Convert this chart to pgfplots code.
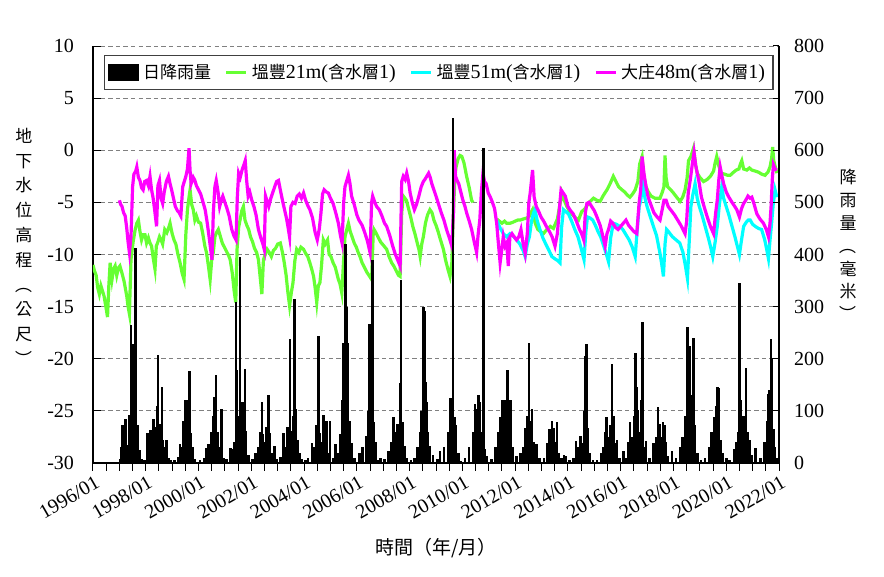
\documentclass[border=0pt]{standalone}
\usepackage{fontspec}
\setmainfont{Liberation Serif}
\newfontfamily\cjk{Noto Sans CJK TC}
\usepackage{graphicx}
\usepackage{pgfplots}
\pgfplotsset{compat=1.18}
\definecolor{gwgreen}{RGB}{102,255,51}
\definecolor{gwcyan}{RGB}{0,255,255}
\definecolor{gwmag}{RGB}{255,0,255}
\newcommand{\zh}[1]{{\cjk\fontsize{8.5}{10}\selectfont #1}}
\newcommand{\vl}{\rotatebox[origin=c]{-90}{（}}
\newcommand{\vr}{\rotatebox[origin=c]{-90}{）}}

\begin{document}
\begin{tikzpicture}
\useasboundingbox (-46.5pt,-57pt) rectangle (395.5pt,231.5pt);
\pgfplotsset{every axis/.append style={
  scale only axis, width=343pt, height=208.5pt,
  at={(0,0)}, anchor=south west,
  xmin=1996, xmax=2022,
  font=\fontsize{10}{12}\selectfont,
  /pgf/number format/assume math mode=true,
  clip mode=individual,
  tick align=inside, major tick length=3pt,
  tick style={black, line width=0.5pt},
  axis line style={black, line width=0.7pt}}}

% groundwater levels (left axis)
\begin{axis}[
  axis y line*=left, axis x line*=bottom,
  ymin=-30, ymax=10, ytick={-30,-25,...,10},
  ymajorgrids, grid style={gray, dash pattern=on 2.2pt off 1.6pt, line width=0.5pt},
  xtick={1996,1998,...,2022},
  xticklabels={1996/01,1998/01,2000/01,2002/01,2004/01,2006/01,2008/01,2010/01,2012/01,2014/01,2016/01,2018/01,2020/01,2022/01},
  minor x tick num=3, minor tick length=4pt, major tick length=4pt,
  xtick style={yshift=-4pt},
  xticklabel style={rotate=30, anchor=north east, yshift=-2pt, xshift=1pt},
  yticklabel style={xshift=-6pt},
  unbounded coords=jump,
]
\addplot[gwgreen, line width=1.6pt] coordinates {
(1996.00,-11.0)(1996.06,-11.6)(1996.12,-12.0)(1996.18,-13.2)(1996.24,-13.8)(1996.30,-13.0)(1996.36,-13.5)(1996.42,-14.0)
(1996.50,-15.2)(1996.55,-16.0)(1996.60,-13.0)(1996.65,-10.8)(1996.72,-12.4)(1996.78,-11.4)(1996.84,-11.1)(1996.90,-12.0)
(1996.96,-11.3)(1997.02,-11.1)(1997.10,-11.8)(1997.18,-12.6)(1997.28,-14.0)(1997.33,-15.0)(1997.38,-15.7)(1997.44,-10.5)
(1997.52,-8.8)(1997.60,-7.6)(1997.66,-7.0)(1997.72,-6.7)(1997.78,-7.8)(1997.84,-8.6)(1997.90,-8.1)(1997.97,-8.1)
(1998.03,-8.9)(1998.10,-8.4)(1998.16,-8.9)(1998.22,-9.2)(1998.28,-10.3)(1998.35,-11.4)(1998.40,-9.2)(1998.46,-8.8)
(1998.52,-8.3)(1998.58,-8.6)(1998.64,-9.0)(1998.72,-7.6)(1998.80,-7.9)(1998.86,-7.5)(1998.92,-7.0)(1999.00,-8.0)
(1999.07,-8.6)(1999.14,-9.0)(1999.22,-10.0)(1999.30,-10.8)(1999.38,-11.8)(1999.45,-12.4)(1999.52,-8.0)(1999.58,-5.7)
(1999.64,-4.5)(1999.68,-3.8)(1999.74,-5.2)(1999.80,-5.7)(1999.86,-6.7)(1999.92,-6.3)(2000.00,-6.9)(2000.08,-7.0)
(2000.16,-8.0)(2000.24,-9.2)(2000.30,-9.8)(2000.38,-11.2)(2000.44,-12.4)(2000.50,-10.5)(2000.56,-9.8)(2000.62,-8.3)
(2000.68,-7.9)(2000.75,-7.6)(2000.82,-8.2)(2000.90,-8.9)(2000.98,-9.3)(2001.06,-9.7)(2001.14,-10.1)(2001.20,-10.5)
(2001.28,-11.8)(2001.35,-13.5)(2001.41,-14.6)(2001.46,-9.5)(2001.52,-7.4)(2001.58,-6.6)(2001.64,-5.8)(2001.70,-5.4)
(2001.76,-6.7)(2001.83,-7.2)(2001.90,-7.6)(2001.97,-8.3)(2002.05,-8.8)(2002.12,-9.4)(2002.20,-9.8)(2002.27,-10.5)
(2002.33,-12.0)(2002.40,-13.8)(2002.46,-10.5)(2002.53,-10.0)(2002.60,-9.5)(2002.68,-9.8)(2002.76,-10.2)(2002.84,-9.6)
(2002.92,-9.4)(2003.00,-9.0)(2003.10,-8.9)(2003.18,-9.8)(2003.25,-10.8)(2003.32,-12.0)(2003.38,-13.5)(2003.45,-14.9)
(2003.52,-13.6)(2003.58,-12.7)(2003.65,-10.6)(2003.72,-9.5)(2003.80,-9.8)(2003.88,-9.3)(2003.98,-9.5)(2004.06,-9.9)
(2004.14,-10.2)(2004.22,-10.8)(2004.30,-11.5)(2004.36,-12.1)(2004.42,-13.2)(2004.48,-14.6)(2004.54,-13.0)(2004.60,-12.7)
(2004.66,-11.1)(2004.73,-8.6)(2004.80,-9.0)(2004.89,-8.6)(2004.95,-10.0)(2005.02,-10.2)(2005.10,-10.8)(2005.18,-11.2)
(2005.24,-11.8)(2005.30,-12.4)(2005.36,-12.8)(2005.43,-13.7)(2005.50,-10.5)(2005.55,-8.3)(2005.62,-7.6)(2005.68,-7.0)
(2005.75,-7.8)(2005.82,-8.3)(2005.90,-8.9)(2005.98,-9.3)(2006.05,-9.8)(2006.12,-10.2)(2006.20,-10.8)(2006.30,-11.3)
(2006.38,-11.7)(2006.46,-12.0)(2006.56,-12.4)(2006.62,-8.0)(2006.65,-7.6)(2006.72,-7.9)(2006.80,-8.3)(2006.90,-8.8)
(2007.00,-9.1)(2007.13,-9.5)(2007.22,-10.2)(2007.32,-10.8)(2007.40,-11.1)(2007.50,-11.6)(2007.58,-12.0)(2007.64,-12.1)
(2007.70,-6.0)(2007.76,-4.4)(2007.82,-4.6)(2007.88,-4.8)(2007.96,-5.6)(2008.05,-6.5)(2008.12,-7.3)(2008.20,-8.0)
(2008.28,-8.8)(2008.36,-9.6)(2008.40,-10.2)(2008.46,-9.0)(2008.52,-8.3)(2008.60,-7.0)(2008.68,-6.2)(2008.77,-5.7)
(2008.85,-6.0)(2008.92,-6.7)(2009.00,-7.2)(2009.08,-7.8)(2009.16,-8.5)(2009.28,-9.5)(2009.36,-10.5)(2009.45,-11.4)
(2009.53,-12.1)(2009.60,-10.8)(2009.66,-6.0)(2009.72,-2.5)(2009.76,-1.6)(2009.84,-0.8)(2009.91,-0.5)(2009.98,-0.6)
(2010.06,-1.2)(2010.16,-2.5)(2010.26,-3.6)(2010.35,-4.8)(2010.40,-5.0)(2010.70,nan)
(2011.30,-6.6)(2011.40,-6.8)(2011.50,-7.0)(2011.60,-6.8)(2011.68,-7.0)(2011.81,-7.0)(2011.92,-6.9)(2012.00,-6.8)
(2012.10,-6.7)(2012.19,-6.7)(2012.30,-6.6)(2012.44,-6.5)(2012.52,-6.4)(2012.60,-6.0)(2012.66,-5.7)(2012.76,-7.0)
(2012.86,-7.6)(2012.96,-7.8)(2013.07,-8.0)(2013.20,-7.6)(2013.33,-7.3)(2013.45,-7.5)(2013.60,-6.6)(2013.70,-5.2)
(2013.77,-4.1)(2013.86,-4.8)(2013.96,-5.4)(2014.10,-6.0)(2014.25,-6.4)(2014.40,-6.7)(2014.52,-5.9)(2014.65,-5.6)
(2014.80,-5.0)(2014.97,-4.6)(2015.10,-4.8)(2015.22,-4.9)(2015.35,-4.3)(2015.48,-3.8)(2015.60,-3.2)(2015.72,-2.5)
(2015.80,-2.9)(2015.92,-3.5)(2016.05,-3.8)(2016.15,-4.0)(2016.25,-4.3)(2016.35,-4.5)(2016.45,-4.2)(2016.55,-3.8)
(2016.65,-3.0)(2016.72,-1.3)(2016.81,-0.6)(2016.88,-2.5)(2016.96,-3.5)(2017.05,-4.0)(2017.15,-4.4)(2017.30,-4.6)
(2017.49,-4.6)(2017.58,-4.0)(2017.64,-3.5)(2017.68,-0.5)(2017.72,-2.6)(2017.78,-3.5)(2017.90,-3.8)(2018.00,-4.1)
(2018.12,-4.5)(2018.25,-4.9)(2018.35,-4.5)(2018.44,-3.8)(2018.52,-2.6)(2018.57,-1.0)(2018.66,-0.6)(2018.76,0.2)
(2018.84,-1.4)(2018.90,-2.2)(2019.00,-2.6)(2019.14,-3.0)(2019.28,-2.8)(2019.40,-2.5)(2019.52,-2.0)(2019.58,-1.2)
(2019.64,-0.6)(2019.72,-1.5)(2019.80,-2.2)(2019.95,-2.3)(2020.05,-2.4)(2020.15,-2.4)(2020.28,-2.1)(2020.38,-1.9)
(2020.48,-1.8)(2020.54,-1.3)(2020.59,-1.0)(2020.66,-1.8)(2020.78,-1.9)(2020.88,-1.7)(2020.97,-1.9)(2021.10,-2.0)
(2021.22,-2.1)(2021.35,-2.3)(2021.47,-2.4)(2021.58,-2.1)(2021.66,-1.6)(2021.72,-0.8)(2021.76,0.3)(2021.80,-1.0)
(2021.86,-1.6)(2021.92,-2.2)};
\addplot[gwcyan, line width=1.6pt] coordinates {
(2011.30,-6.7)(2011.42,-7.4)(2011.55,-8.0)(2011.68,-8.3)(2011.80,-8.0)(2011.95,-8.3)(2012.06,-8.6)(2012.18,-9.0)
(2012.30,-9.6)(2012.38,-10.2)(2012.46,-9.0)(2012.54,-8.3)(2012.62,-6.8)(2012.70,-6.0)(2012.75,-5.7)(2012.84,-6.8)
(2012.94,-7.6)(2013.05,-8.4)(2013.16,-9.0)(2013.28,-9.6)(2013.39,-10.2)(2013.50,-10.4)(2013.62,-10.6)(2013.70,-10.8)
(2013.76,-7.4)(2013.83,-5.7)(2013.92,-5.9)(2014.02,-6.1)(2014.14,-6.8)(2014.26,-7.6)(2014.38,-8.3)(2014.50,-9.4)
(2014.61,-10.5)(2014.68,-7.8)(2014.74,-6.4)(2014.84,-6.5)(2014.94,-6.7)(2015.04,-7.2)(2015.14,-7.8)(2015.24,-8.3)
(2015.36,-9.2)(2015.46,-10.0)(2015.54,-10.7)(2015.62,-8.4)(2015.72,-7.0)(2015.84,-7.1)(2015.96,-7.3)(2016.08,-7.6)
(2016.20,-8.1)(2016.32,-8.6)(2016.44,-9.3)(2016.55,-10.2)(2016.62,-7.8)(2016.70,-5.4)(2016.76,-4.8)(2016.84,-3.2)
(2016.92,-4.6)(2017.00,-5.4)(2017.10,-6.2)(2017.24,-7.3)(2017.36,-8.2)(2017.49,-9.9)(2017.56,-11.0)(2017.62,-12.1)
(2017.68,-9.0)(2017.74,-7.6)(2017.84,-7.9)(2017.96,-8.3)(2018.10,-8.6)(2018.24,-8.9)(2018.36,-9.8)(2018.46,-11.2)
(2018.53,-12.3)(2018.60,-8.6)(2018.66,-5.4)(2018.74,-4.2)(2018.82,-3.2)(2018.90,-4.6)(2018.98,-5.4)(2019.08,-6.2)
(2019.20,-7.3)(2019.32,-8.4)(2019.42,-9.4)(2019.49,-10.2)(2019.58,-8.8)(2019.66,-7.3)(2019.74,-5.2)(2019.83,-3.5)
(2019.90,-4.6)(2020.00,-5.4)(2020.10,-6.2)(2020.22,-7.3)(2020.34,-8.4)(2020.44,-9.4)(2020.50,-10.0)(2020.58,-8.6)
(2020.66,-7.3)(2020.76,-6.9)(2020.84,-6.7)(2020.91,-6.7)(2021.00,-7.1)(2021.10,-7.3)(2021.22,-7.5)(2021.34,-7.6)
(2021.46,-8.6)(2021.54,-9.6)(2021.60,-10.4)(2021.66,-8.6)(2021.72,-7.0)(2021.78,-5.2)(2021.85,-3.8)(2021.92,-4.5)};
\addplot[gwmag, line width=1.6pt] coordinates {
(1997.00,-4.8)(1997.05,-5.2)(1997.10,-5.4)(1997.16,-6.0)(1997.22,-6.3)(1997.28,-7.5)(1997.33,-8.8)(1997.38,-9.8)
(1997.44,-8.3)(1997.50,-3.5)(1997.55,-2.3)(1997.62,-2.0)(1997.66,-1.6)(1997.72,-2.6)(1997.78,-2.9)(1997.84,-3.6)
(1997.90,-3.8)(1997.96,-3.0)(1998.03,-2.9)(1998.10,-3.4)(1998.16,-2.5)(1998.22,-3.8)(1998.28,-4.6)(1998.34,-5.8)
(1998.41,-7.3)(1998.46,-3.4)(1998.52,-2.9)(1998.58,-4.6)(1998.64,-5.1)(1998.70,-4.0)(1998.78,-3.0)(1998.86,-2.5)
(1998.92,-3.2)(1998.98,-3.8)(1999.05,-4.6)(1999.12,-5.4)(1999.20,-5.8)(1999.27,-6.0)(1999.33,-6.3)(1999.40,-3.5)
(1999.46,-3.0)(1999.52,-2.5)(1999.58,-1.8)(1999.64,0.2)(1999.68,-2.0)(1999.72,-3.2)(1999.80,-2.6)(1999.86,-2.9)
(1999.92,-3.4)(2000.00,-3.8)(2000.08,-4.2)(2000.15,-4.8)(2000.25,-5.7)(2000.32,-6.8)(2000.40,-8.3)(2000.46,-9.5)
(2000.51,-10.5)(2000.56,-6.0)(2000.62,-3.5)(2000.67,-2.9)(2000.74,-4.0)(2000.80,-5.4)(2000.86,-4.8)(2000.92,-4.4)
(2001.00,-5.0)(2001.08,-5.6)(2001.16,-6.3)(2001.26,-7.6)(2001.34,-8.2)(2001.42,-8.6)(2001.47,-4.5)(2001.52,-2.2)
(2001.58,-2.6)(2001.66,-1.8)(2001.72,-1.4)(2001.77,-1.0)(2001.82,-2.8)(2001.88,-4.4)(2001.94,-4.0)(2002.02,-4.8)
(2002.10,-5.4)(2002.18,-6.2)(2002.27,-7.6)(2002.36,-8.4)(2002.44,-9.0)(2002.49,-9.5)(2002.54,-4.4)(2002.60,-4.9)
(2002.66,-5.4)(2002.74,-4.6)(2002.82,-4.0)(2002.90,-3.4)(2002.96,-3.0)(2003.03,-2.9)(2003.10,-3.8)(2003.18,-4.8)
(2003.26,-5.7)(2003.34,-6.6)(2003.40,-7.5)(2003.45,-8.3)(2003.50,-5.4)(2003.58,-5.0)(2003.66,-5.1)(2003.74,-4.4)
(2003.82,-4.2)(2003.90,-4.6)(2003.98,-4.1)(2004.06,-4.8)(2004.14,-5.3)(2004.22,-5.7)(2004.32,-6.5)(2004.42,-7.9)
(2004.50,-8.6)(2004.58,-7.5)(2004.64,-6.0)(2004.70,-4.2)(2004.76,-3.8)(2004.84,-4.0)(2004.92,-4.1)(2005.00,-4.6)
(2005.10,-5.1)(2005.20,-6.0)(2005.30,-7.0)(2005.38,-8.2)(2005.44,-8.9)(2005.50,-5.0)(2005.55,-3.5)(2005.62,-2.9)
(2005.68,-2.4)(2005.74,-3.2)(2005.80,-4.4)(2005.90,-5.2)(2006.00,-6.2)(2006.08,-6.7)(2006.20,-7.2)(2006.30,-7.9)
(2006.40,-8.7)(2006.50,-9.8)(2006.56,-5.0)(2006.60,-4.4)(2006.68,-5.0)(2006.75,-5.4)(2006.85,-5.7)(2006.95,-6.3)
(2007.05,-7.0)(2007.13,-7.3)(2007.25,-8.2)(2007.36,-9.2)(2007.46,-10.0)(2007.56,-10.6)(2007.64,-11.1)(2007.70,-3.0)
(2007.76,-2.5)(2007.83,-2.8)(2007.89,-2.2)(2007.96,-3.0)(2008.02,-4.1)(2008.10,-5.0)(2008.18,-5.7)(2008.26,-5.2)
(2008.35,-4.4)(2008.44,-3.5)(2008.52,-3.0)(2008.58,-2.8)(2008.65,-2.5)(2008.72,-2.2)(2008.78,-2.6)(2008.84,-3.2)
(2008.92,-3.8)(2009.00,-4.4)(2009.10,-5.2)(2009.20,-6.0)(2009.30,-6.7)(2009.40,-7.6)(2009.53,-8.6)(2009.60,-9.2)
(2009.66,-6.0)(2009.69,0.0)(2009.74,-2.5)(2009.80,-2.9)(2009.86,-3.2)(2009.94,-4.0)(2010.02,-4.8)(2010.10,-5.4)
(2010.16,-6.0)(2010.26,-6.8)(2010.35,-7.6)(2010.45,-8.8)(2010.54,-9.8)(2010.60,-8.0)(2010.66,-6.7)(2010.72,-4.0)
(2010.78,-2.2)(2010.84,-3.0)(2010.90,-3.2)(2010.98,-4.1)(2011.06,-4.5)(2011.14,-5.0)(2011.22,-5.6)(2011.30,-7.0)
(2011.36,-8.8)(2011.43,-10.8)(2011.49,-9.6)(2011.55,-8.3)(2011.62,-9.2)(2011.68,-8.9)(2011.74,-11.1)(2011.80,-8.3)
(2011.88,-8.0)(2011.96,-8.3)(2012.05,-8.6)(2012.14,-8.3)(2012.22,-7.6)(2012.30,-8.9)(2012.38,-9.9)(2012.46,-8.0)
(2012.52,-5.0)(2012.57,-4.1)(2012.66,-1.9)(2012.72,-4.5)(2012.80,-5.4)(2012.88,-5.8)(2012.98,-6.4)(2013.08,-6.8)
(2013.18,-7.3)(2013.30,-7.8)(2013.40,-8.3)(2013.51,-9.2)(2013.60,-8.0)(2013.68,-5.5)(2013.74,-3.8)(2013.82,-4.1)
(2013.90,-4.4)(2014.00,-5.4)(2014.10,-5.8)(2014.20,-6.1)(2014.32,-6.8)(2014.44,-7.6)(2014.52,-8.0)(2014.60,-8.6)
(2014.66,-6.0)(2014.72,-5.1)(2014.80,-5.0)(2014.90,-5.4)(2015.00,-5.8)(2015.10,-6.4)(2015.22,-7.2)(2015.32,-8.2)
(2015.41,-9.2)(2015.48,-8.0)(2015.54,-7.6)(2015.62,-6.8)(2015.70,-7.0)(2015.80,-7.4)(2015.90,-7.6)(2016.00,-7.3)
(2016.10,-7.0)(2016.20,-6.7)(2016.30,-7.2)(2016.40,-7.5)(2016.50,-7.8)(2016.61,-8.0)(2016.70,-5.0)(2016.76,-3.8)
(2016.81,-0.6)(2016.88,-2.2)(2016.96,-3.5)(2017.04,-4.5)(2017.14,-5.2)(2017.26,-6.0)(2017.38,-6.4)(2017.49,-6.7)
(2017.58,-5.6)(2017.64,-4.8)(2017.72,-4.8)(2017.80,-5.4)(2017.92,-5.8)(2018.04,-6.2)(2018.16,-6.7)(2018.28,-7.2)
(2018.36,-7.6)(2018.44,-8.0)(2018.50,-6.8)(2018.56,-4.1)(2018.64,-2.8)(2018.72,-1.2)(2018.78,-0.2)(2018.84,-1.4)
(2018.90,-2.2)(2018.98,-3.2)(2019.06,-4.5)(2019.16,-5.4)(2019.28,-6.4)(2019.40,-7.3)(2019.52,-8.0)(2019.60,-6.0)
(2019.66,-4.8)(2019.72,-2.8)(2019.77,-1.6)(2019.84,-2.5)(2019.90,-3.2)(2020.00,-4.0)(2020.10,-4.5)(2020.22,-5.0)
(2020.30,-5.3)(2020.40,-5.7)(2020.50,-6.4)(2020.58,-5.6)(2020.66,-5.1)(2020.74,-4.8)(2020.82,-4.4)(2020.90,-4.6)
(2020.97,-4.5)(2021.06,-5.2)(2021.16,-6.1)(2021.28,-6.6)(2021.41,-7.0)(2021.52,-7.6)(2021.60,-8.3)(2021.66,-7.0)
(2021.70,-5.4)(2021.75,-2.6)(2021.79,-1.4)(2021.85,-1.8)(2021.92,-1.9)};
\node[font=\cjk\fontsize{8.5}{12.4}\selectfont, align=center, inner sep=0pt]
  at (axis description cs:0,0.516) [xshift=-34.5pt] {地\\下\\水\\位\\高\\程\\\vl\\公\\尺\\\vr};
\node[font=\cjk\fontsize{9.5}{11}\selectfont, inner sep=0pt]
  at (axis description cs:0.5,0) [yshift=-42.5pt] {時間（年/月）};
\end{axis}

% daily rainfall (right axis)
\begin{axis}[
  axis y line*=right, axis x line=none,
  ymin=0, ymax=800, ytick={0,100,...,800},
  yticklabel style={xshift=4pt},
  legend columns=4,
  legend style={at={(0.504,0.978)}, anchor=north, draw=black!75, line width=0.6pt,
    font=\fontsize{10}{12}\selectfont, inner sep=2pt,
    /tikz/every even column/.append style={column sep=5pt}},
  legend image code/.code={\draw[#1] (0pt,0pt) -- (10pt,0pt);},
]
\addplot[ycomb, black, line width=1.3pt,
  legend image code/.code={\fill[black] (0pt,-3.5pt) rectangle (14pt,3.5pt);}] coordinates {
(1997.02,8)(1997.08,30)(1997.11,72)(1997.16,20)(1997.20,40)(1997.24,85)(1997.30,35)(1997.36,92)(1997.40,60)(1997.44,265)
(1997.48,120)(1997.52,229)(1997.56,80)(1997.62,413)(1997.66,50)(1997.70,72)(1997.76,25)(1997.85,8)(1997.95,5)
(1998.06,57)(1998.12,20)(1998.18,64)(1998.24,40)(1998.30,85)(1998.36,70)(1998.42,110)(1998.46,208)(1998.50,60)(1998.55,75)
(1998.61,146)(1998.66,45)(1998.72,30)(1998.78,45)(1998.86,10)(1998.95,5)
(1999.10,6)(1999.22,12)(1999.30,36)(1999.36,30)(1999.42,80)(1999.49,120)(1999.55,120)(1999.60,90)(1999.65,177)(1999.70,58)
(1999.76,30)(1999.85,8)
(2000.05,5)(2000.20,10)(2000.30,29)(2000.38,36)(2000.44,20)(2000.50,60)(2000.55,90)(2000.59,127)(2000.63,100)(2000.66,169)
(2000.72,60)(2000.80,30)(2000.88,104)(2000.95,10)
(2001.05,8)(2001.20,29)(2001.30,26)(2001.36,40)(2001.42,309)(2001.45,179)(2001.50,90)(2001.57,396)(2001.62,80)(2001.66,117)
(2001.72,60)(2001.76,180)(2001.80,62)(2001.90,15)
(2002.05,8)(2002.15,20)(2002.28,30)(2002.35,60)(2002.40,117)(2002.45,55)(2002.52,40)(2002.58,70)(2002.65,130)(2002.70,58)
(2002.78,20)(2002.88,33)(2002.96,8)
(2003.10,12)(2003.22,58)(2003.30,30)(2003.38,70)(2003.47,237)(2003.52,62)(2003.58,90)(2003.63,315)(2003.68,104)(2003.74,45)
(2003.82,20)(2003.92,8)
(2004.05,5)(2004.15,10)(2004.30,39)(2004.40,30)(2004.45,72)(2004.50,60)(2004.55,244)(2004.60,58)(2004.66,40)(2004.73,92)
(2004.80,50)(2004.86,81)(2004.94,20)(2004.98,81)
(2005.10,10)(2005.20,36)(2005.30,20)(2005.38,55)(2005.44,120)(2005.49,231)(2005.53,180)(2005.57,420)(2005.60,300)(2005.66,231)
(2005.72,80)(2005.80,39)(2005.90,10)
(2006.10,20)(2006.22,30)(2006.35,52)(2006.42,100)(2006.47,267)(2006.52,182)(2006.56,120)(2006.60,390)(2006.64,78)(2006.70,40)
(2006.78,6)(2006.90,10)
(2007.05,8)(2007.20,23)(2007.30,40)(2007.40,88)(2007.48,60)(2007.55,75)(2007.64,153)(2007.68,351)(2007.72,78)(2007.80,33)
(2007.90,10)
(2008.05,6)(2008.18,10)(2008.30,30)(2008.40,60)(2008.46,100)(2008.52,299)(2008.56,292)(2008.60,156)(2008.64,117)(2008.70,60)
(2008.78,33)(2008.88,15)
(2009.05,8)(2009.15,23)(2009.30,30)(2009.45,60)(2009.55,124)(2009.60,80)(2009.65,662)(2009.70,88)(2009.76,72)(2009.85,20)
(2009.95,3)
(2010.10,10)(2010.25,30)(2010.40,60)(2010.48,114)(2010.54,104)(2010.60,130)(2010.66,117)(2010.74,60)(2010.80,605)(2010.86,26)
(2010.94,13)
(2011.10,8)(2011.25,30)(2011.35,60)(2011.44,88)(2011.52,120)(2011.58,80)(2011.64,120)(2011.72,179)(2011.76,120)(2011.82,120)
(2011.90,30)
(2012.05,13)(2012.20,20)(2012.32,30)(2012.40,68)(2012.46,90)(2012.53,231)(2012.58,80)(2012.64,104)(2012.72,40)(2012.80,36)
(2012.92,10)
(2013.10,10)(2013.22,39)(2013.30,65)(2013.36,30)(2013.40,81)(2013.45,68)(2013.52,40)(2013.58,79)(2013.66,20)(2013.75,10)
(2013.85,16)(2013.92,13)
(2014.05,6)(2014.20,10)(2014.30,42)(2014.40,30)(2014.48,52)(2014.55,39)(2014.62,100)(2014.66,205)(2014.71,228)(2014.76,68)
(2014.84,20)(2014.95,6)
(2015.10,6)(2015.25,20)(2015.35,30)(2015.42,60)(2015.47,88)(2015.52,50)(2015.60,72)(2015.67,189)(2015.72,91)(2015.78,39)
(2015.86,45)(2015.95,10)
(2016.10,23)(2016.20,10)(2016.28,40)(2016.35,78)(2016.42,50)(2016.50,90)(2016.55,211)(2016.60,146)(2016.66,101)(2016.72,60)
(2016.78,120)(2016.82,270)(2016.88,30)(2016.96,42)
(2017.10,10)(2017.25,39)(2017.35,50)(2017.42,107)(2017.48,75)(2017.55,50)(2017.60,79)(2017.65,72)(2017.72,40)(2017.80,13)
(2017.95,23)
(2018.10,10)(2018.25,30)(2018.35,50)(2018.45,90)(2018.54,261)(2018.58,120)(2018.62,224)(2018.68,60)(2018.72,130)(2018.76,240)
(2018.80,72)(2018.90,20)
(2019.05,6)(2019.20,10)(2019.35,30)(2019.45,60)(2019.55,88)(2019.60,58)(2019.64,110)(2019.67,146)(2019.72,143)(2019.78,45)
(2019.88,20)
(2020.00,10)(2020.12,6)(2020.30,26)(2020.40,40)(2020.46,60)(2020.50,346)(2020.55,120)(2020.60,60)(2020.66,90)(2020.70,40)
(2020.75,182)(2020.80,60)(2020.88,45)(2020.95,15)
(2021.10,29)(2021.30,10)(2021.45,40)(2021.55,80)(2021.60,133)(2021.65,140)(2021.69,237)(2021.73,201)(2021.78,66)(2021.85,30)
(2021.92,10)};
\addlegendentry{\zh{日降雨量}}
\addlegendimage{gwgreen, line width=1.4pt}
\addlegendentry{\zh{塭豐}21m(\zh{含水層}1)}
\addlegendimage{gwcyan, line width=1.4pt}
\addlegendentry{\zh{塭豐}51m(\zh{含水層}1)}
\addlegendimage{gwmag, line width=1.4pt}
\addlegendentry{\zh{大庄}48m(\zh{含水層}1)}
\node[font=\cjk\fontsize{8.5}{11.4}\selectfont, align=center, inner sep=0pt]
  at (axis description cs:1,0.52) [xshift=34.5pt] {降\\雨\\量\\\vl\\毫\\米\\\vr};
\end{axis}
\end{tikzpicture}
\end{document}
